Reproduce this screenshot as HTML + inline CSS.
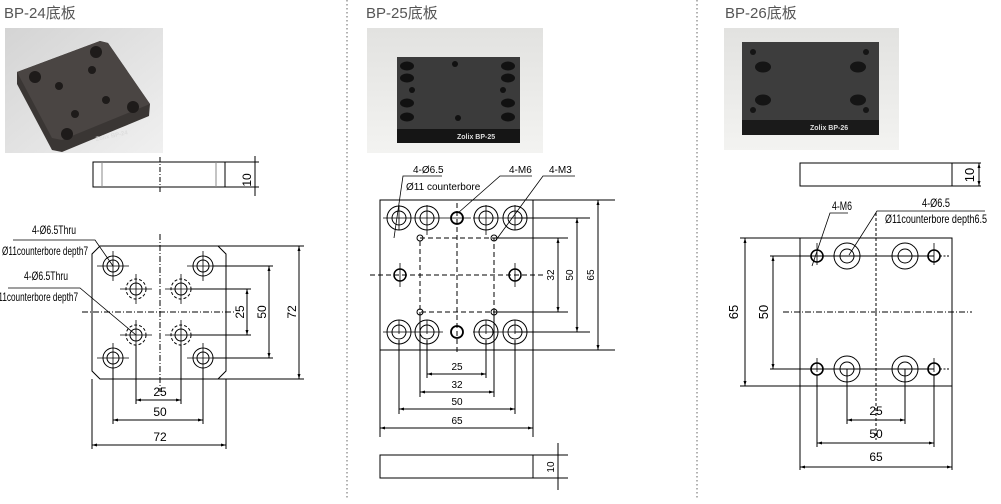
<!DOCTYPE html>
<html><head><meta charset="utf-8"><style>
body{margin:0;background:#fff;width:1001px;height:499px;overflow:hidden}
svg text{font-family:"Liberation Sans","Noto Sans CJK SC",sans-serif}
</style></head><body>
<svg width="1001" height="499" viewBox="0 0 1001 499" xmlns="http://www.w3.org/2000/svg">
<defs>
<marker id="a" viewBox="0 0 10 10" refX="10" refY="5" markerWidth="7" markerHeight="5" orient="auto-start-reverse"><path d="M0,2 L10,5 L0,8z" fill="#000"/></marker>
<linearGradient id="bg1" x1="0" y1="0" x2="1" y2="1"><stop offset="0" stop-color="#d4d4d4"/><stop offset="1" stop-color="#f0f0f0"/></linearGradient>
<linearGradient id="bg2" x1="0" y1="0" x2="0" y2="1"><stop offset="0" stop-color="#e2e2e0"/><stop offset="1" stop-color="#f3f3f1"/></linearGradient>
</defs>
<g font-size="15" fill="#555">
<text x="4" y="18">BP-24底板</text>
<text x="366" y="18">BP-25底板</text>
<text x="725" y="18">BP-26底板</text>
</g>
<line x1="347" y1="0" x2="347" y2="499" stroke="#666" stroke-dasharray="1.5,2.5"/>
<line x1="697" y1="0" x2="697" y2="499" stroke="#666" stroke-dasharray="1.5,2.5"/>

<!-- photos -->
<rect x="5" y="28" width="158" height="125" fill="url(#bg1)"/>
<polygon points="17,72 100,41 108,43 150,104 149,116 62,152 52,150 17,84" fill="#3a3634"/>
<polygon points="17,72 100,41 108,43 150,104 62,140 52,138" fill="#4a4543"/>
<g fill="#1e1b1a"><circle cx="35" cy="77" r="6"/><circle cx="96" cy="52" r="6"/><circle cx="133" cy="107" r="6"/><circle cx="67" cy="134" r="6"/><circle cx="59" cy="86" r="4"/><circle cx="92" cy="70" r="4"/><circle cx="106" cy="100" r="4"/><circle cx="75" cy="114" r="4"/></g>
<text x="96" y="141" font-size="6" fill="#ddd" font-weight="bold" transform="rotate(-12 96 141)">Zolix BP-24</text>

<rect x="367" y="28" width="176" height="125" fill="url(#bg2)"/>
<rect x="397" y="57" width="123" height="72" fill="#3b3b3b"/>
<rect x="397" y="129" width="123" height="14" fill="#151515"/>
<g fill="#111"><ellipse cx="407" cy="66" rx="7" ry="4.5"/><ellipse cx="407" cy="78" rx="7" ry="4.5"/><ellipse cx="407" cy="103" rx="7" ry="4.5"/><ellipse cx="407" cy="117" rx="7" ry="4.5"/><ellipse cx="508" cy="66" rx="7" ry="4.5"/><ellipse cx="508" cy="78" rx="7" ry="4.5"/><ellipse cx="508" cy="103" rx="7" ry="4.5"/><ellipse cx="508" cy="117" rx="7" ry="4.5"/><circle cx="455" cy="64" r="3"/><circle cx="458" cy="118" r="3"/><circle cx="412" cy="90" r="3"/><circle cx="503" cy="90" r="3"/></g>
<text x="457" y="139" font-size="7" fill="#ddd" font-weight="bold">Zolix BP-25</text>

<rect x="724" y="28" width="175" height="122" fill="url(#bg2)"/>
<rect x="742" y="42" width="137" height="78" fill="#3d3d3d"/>
<rect x="742" y="120" width="137" height="15" fill="#1a1a1a"/>
<g fill="#151515"><circle cx="753" cy="52" r="3"/><ellipse cx="763" cy="67" rx="8" ry="5.5"/><ellipse cx="763" cy="100" rx="8" ry="5.5"/><circle cx="753" cy="110" r="3"/><circle cx="866" cy="52" r="3"/><ellipse cx="858" cy="67" rx="8" ry="5.5"/><ellipse cx="858" cy="100" rx="8" ry="5.5"/><circle cx="866" cy="110" r="3"/></g>
<text x="810" y="130" font-size="7" fill="#ddd" font-weight="bold">Zolix BP-26</text>

<g stroke="#000" fill="none" stroke-width="1">
<!-- Drawing 1 side -->
<rect x="93" y="162" width="132" height="25"/>
<line x1="102" y1="162" x2="102" y2="187" stroke="#888"/><line x1="216" y1="162" x2="216" y2="187" stroke="#888"/>
<line x1="160" y1="157" x2="160" y2="193" stroke-dasharray="5,2,1,2"/>
<line x1="225" y1="162" x2="259" y2="162"/><line x1="225" y1="187" x2="259" y2="187"/>
<line x1="255" y1="156" x2="255" y2="196"/>
<!-- plan -->
<polygon points="100,246 218,246 226,254 226,371 218,379 100,379 92,371 92,254"/>
<line x1="160" y1="234" x2="160" y2="392" stroke-dasharray="6,2,1,2"/>
<line x1="82" y1="312" x2="236" y2="312" stroke-dasharray="6,2,1,2"/>
<g>
<circle cx="113" cy="266" r="10"/><circle cx="113" cy="266" r="6"/>
<circle cx="203" cy="266" r="10"/><circle cx="203" cy="266" r="6"/>
<circle cx="113" cy="358" r="10"/><circle cx="113" cy="358" r="6"/>
<circle cx="203" cy="358" r="10"/><circle cx="203" cy="358" r="6"/>
<circle cx="136" cy="289" r="10" stroke-dasharray="3,2"/><circle cx="136" cy="289" r="6"/>
<circle cx="181" cy="289" r="10" stroke-dasharray="3,2"/><circle cx="181" cy="289" r="6"/>
<circle cx="136" cy="335" r="10" stroke-dasharray="3,2"/><circle cx="136" cy="335" r="6"/>
<circle cx="181" cy="335" r="10" stroke-dasharray="3,2"/><circle cx="181" cy="335" r="6"/>
</g>
<g stroke-width="0.8">
<path d="M97,266h32M113,251v30M187,266h32M203,251v30M97,358h32M113,343v30M187,358h32M203,343v30"/>
<path d="M120,289h32M136,274v30M165,289h32M181,274v30M120,335h32M136,320v30M165,335h32M181,320v30"/>
</g>
<!-- bottom dims -->
<line x1="136" y1="345" x2="136" y2="404"/><line x1="181" y1="345" x2="181" y2="404"/>
<line x1="113" y1="368" x2="113" y2="424"/><line x1="203" y1="368" x2="203" y2="424"/>
<line x1="92" y1="379" x2="92" y2="449"/><line x1="226" y1="379" x2="226" y2="449"/>
<line x1="136" y1="400" x2="181" y2="400" marker-start="url(#a)" marker-end="url(#a)"/>
<line x1="113" y1="420" x2="203" y2="420" marker-start="url(#a)" marker-end="url(#a)"/>
<line x1="92" y1="445" x2="226" y2="445" marker-start="url(#a)" marker-end="url(#a)"/>
<!-- right dims -->
<line x1="191" y1="289" x2="251" y2="289"/><line x1="191" y1="335" x2="251" y2="335"/>
<line x1="213" y1="266" x2="273" y2="266"/><line x1="213" y1="358" x2="273" y2="358"/>
<line x1="218" y1="246" x2="304" y2="246"/><line x1="218" y1="379" x2="304" y2="379"/>
<line x1="247" y1="289" x2="247" y2="335" marker-start="url(#a)" marker-end="url(#a)"/>
<line x1="269" y1="266" x2="269" y2="358" marker-start="url(#a)" marker-end="url(#a)"/>
<line x1="299" y1="246" x2="299" y2="379" marker-start="url(#a)" marker-end="url(#a)"/>
<!-- leaders -->
<path d="M13,240H95L113,266" stroke-width="0.8"/>
<path d="M8,288H80L136,335" stroke-width="0.8"/>

<!-- Drawing 2 -->
<rect x="380" y="200" width="153" height="150"/>
<g>
<circle cx="399" cy="218" r="12"/><circle cx="399" cy="218" r="7"/>
<circle cx="427" cy="218" r="12"/><circle cx="427" cy="218" r="7"/>
<circle cx="486" cy="218" r="12"/><circle cx="486" cy="218" r="7"/>
<circle cx="515" cy="218" r="12"/><circle cx="515" cy="218" r="7"/>
<circle cx="457" cy="218" r="6" stroke-width="1.8"/>
<circle cx="399" cy="332" r="12"/><circle cx="399" cy="332" r="7"/>
<circle cx="427" cy="332" r="12"/><circle cx="427" cy="332" r="7"/>
<circle cx="486" cy="332" r="12"/><circle cx="486" cy="332" r="7"/>
<circle cx="515" cy="332" r="12"/><circle cx="515" cy="332" r="7"/>
<circle cx="457" cy="332" r="6" stroke-width="1.8"/>
<circle cx="400" cy="275" r="6" stroke-width="1.5"/><circle cx="515" cy="275" r="6" stroke-width="1.5"/>
<circle cx="420" cy="238" r="3"/><circle cx="494" cy="238" r="3"/><circle cx="420" cy="312" r="3"/><circle cx="494" cy="312" r="3"/>
</g>
<g stroke-dasharray="5,3">
<rect x="420" y="238" width="74" height="74"/>
<line x1="457" y1="203" x2="457" y2="355"/>
<line x1="370" y1="275" x2="545" y2="275"/>
</g>
<g stroke-width="0.8">
<path d="M383,218h32M399,205v25M411,218h32M427,205v30M443,218h28M473,218h32M486,205v30M501,218h30M515,205v25"/>
<path d="M383,332h32M399,320v14M411,332h32M427,320v14M473,332h32M486,320v14M501,332h30M515,320v14"/>
<path d="M400,263v24M515,263v24"/>
</g>
<!-- right dims -->
<line x1="494" y1="238" x2="568" y2="238"/><line x1="494" y1="312" x2="568" y2="312"/>
<line x1="515" y1="218" x2="590" y2="218"/><line x1="515" y1="332" x2="590" y2="332"/>
<line x1="533" y1="200" x2="615" y2="200"/><line x1="533" y1="350" x2="615" y2="350"/>
<line x1="558" y1="238" x2="558" y2="312" marker-start="url(#a)" marker-end="url(#a)"/>
<line x1="577" y1="218" x2="577" y2="332" marker-start="url(#a)" marker-end="url(#a)"/>
<line x1="598" y1="200" x2="598" y2="350" marker-start="url(#a)" marker-end="url(#a)"/>
<!-- bottom dims -->
<line x1="427" y1="340" x2="427" y2="378"/><line x1="486" y1="340" x2="486" y2="378"/>
<line x1="420" y1="312" x2="420" y2="397"/><line x1="494" y1="312" x2="494" y2="397"/>
<line x1="399" y1="340" x2="399" y2="414"/><line x1="515" y1="340" x2="515" y2="414"/>
<line x1="380" y1="350" x2="380" y2="437"/><line x1="533" y1="350" x2="533" y2="437"/>
<line x1="427" y1="374" x2="486" y2="374" marker-start="url(#a)" marker-end="url(#a)"/>
<line x1="420" y1="392" x2="494" y2="392" marker-start="url(#a)" marker-end="url(#a)"/>
<line x1="399" y1="409" x2="515" y2="409" marker-start="url(#a)" marker-end="url(#a)"/>
<line x1="380" y1="428" x2="533" y2="428" marker-start="url(#a)" marker-end="url(#a)"/>
<!-- side view -->
<rect x="380" y="455" width="153" height="23"/>
<line x1="533" y1="455" x2="568" y2="455"/><line x1="533" y1="478" x2="568" y2="478"/>
<line x1="558" y1="443" x2="558" y2="490"/>
<!-- leaders -->
<path d="M442,176H403L394,238" stroke-width="0.8"/>
<path d="M532,176H500L458,213" stroke-width="0.8"/>
<path d="M575,176H543L496,240" stroke-width="0.8"/>

<!-- Drawing 3 -->
<rect x="800" y="163" width="152" height="23"/>
<line x1="952" y1="163" x2="981" y2="163"/><line x1="952" y1="186" x2="981" y2="186"/>
<line x1="979" y1="163" x2="979" y2="186" marker-start="url(#a)" marker-end="url(#a)"/>
<rect x="800" y="238" width="152" height="148"/>
<g>
<circle cx="817" cy="256" r="6" stroke-width="1.6"/><circle cx="934" cy="256" r="6" stroke-width="1.6"/>
<circle cx="817" cy="369" r="6" stroke-width="1.6"/><circle cx="934" cy="369" r="6" stroke-width="1.6"/>
<circle cx="847" cy="256" r="13"/><circle cx="847" cy="256" r="7"/>
<circle cx="905" cy="256" r="13"/><circle cx="905" cy="256" r="7"/>
<circle cx="847" cy="369" r="13"/><circle cx="847" cy="369" r="7"/>
<circle cx="905" cy="369" r="13"/><circle cx="905" cy="369" r="7"/>
</g>
<line x1="876" y1="213" x2="876" y2="440" stroke-dasharray="3,2"/>
<line x1="783" y1="312" x2="972" y2="312" stroke-dasharray="6,2,1,2"/>
<line x1="940" y1="256" x2="950" y2="256" stroke-dasharray="2,1.5"/><line x1="940" y1="369" x2="950" y2="369" stroke-dasharray="2,1.5"/>
<path d="M817,243v22M934,243v22M817,358v14M934,358v14" stroke-width="0.8"/>
<!-- left dims -->
<line x1="770" y1="256" x2="934" y2="256"/><line x1="770" y1="369" x2="934" y2="369"/>
<line x1="740" y1="238" x2="800" y2="238"/><line x1="740" y1="386" x2="800" y2="386"/>
<line x1="773" y1="256" x2="773" y2="369" marker-start="url(#a)" marker-end="url(#a)"/>
<line x1="745" y1="238" x2="745" y2="386" marker-start="url(#a)" marker-end="url(#a)"/>
<!-- bottom dims -->
<line x1="847" y1="369" x2="847" y2="424"/><line x1="905" y1="369" x2="905" y2="424"/>
<line x1="817" y1="375" x2="817" y2="447"/><line x1="934" y1="375" x2="934" y2="447"/>
<line x1="800" y1="386" x2="800" y2="470"/><line x1="952" y1="386" x2="952" y2="470"/>
<line x1="847" y1="420" x2="905" y2="420" marker-start="url(#a)" marker-end="url(#a)"/>
<line x1="817" y1="443" x2="934" y2="443" marker-start="url(#a)" marker-end="url(#a)"/>
<line x1="800" y1="467" x2="952" y2="467" marker-start="url(#a)" marker-end="url(#a)"/>
<!-- leaders -->
<path d="M848,213H830L812,266" stroke-width="0.8"/>
<path d="M985,211H877L849,255" stroke-width="0.8"/>
</g>

<g font-size="12" fill="#000">
<!-- drawing 1 texts -->
<text x="32" y="234" textLength="44" lengthAdjust="spacingAndGlyphs">4-Ø6.5Thru</text>
<text x="2" y="255" textLength="86" lengthAdjust="spacingAndGlyphs">Ø11counterbore depth7</text>
<text x="24" y="280" textLength="44" lengthAdjust="spacingAndGlyphs">4-Ø6.5Thru</text>
<text x="-8" y="301" textLength="86" lengthAdjust="spacingAndGlyphs">Ø11counterbore depth7</text>
<text x="160" y="396" text-anchor="middle">25</text>
<text x="160" y="416" text-anchor="middle">50</text>
<text x="160" y="441" text-anchor="middle">72</text>
<text transform="translate(251 180) rotate(-90)" text-anchor="middle">10</text>
<text transform="translate(244 312) rotate(-90)" text-anchor="middle">25</text>
<text transform="translate(266 312) rotate(-90)" text-anchor="middle">50</text>
<text transform="translate(296 312) rotate(-90)" text-anchor="middle">72</text>
<!-- drawing 2 -->
<text x="413" y="173" font-size="10">4-Ø6.5</text>
<text x="406" y="190" font-size="10">Ø11 counterbore</text>
<text x="509" y="173" font-size="10">4-M6</text>
<text x="549" y="173" font-size="10">4-M3</text>
<text x="457" y="370" text-anchor="middle" font-size="10">25</text>
<text x="457" y="388" text-anchor="middle" font-size="10">32</text>
<text x="457" y="405" text-anchor="middle" font-size="10">50</text>
<text x="457" y="424" text-anchor="middle" font-size="10">65</text>
<text transform="translate(554 275) rotate(-90)" text-anchor="middle" font-size="10">32</text>
<text transform="translate(573 275) rotate(-90)" text-anchor="middle" font-size="10">50</text>
<text transform="translate(594 275) rotate(-90)" text-anchor="middle" font-size="10">65</text>
<text transform="translate(554 467) rotate(-90)" text-anchor="middle" font-size="10">10</text>
<!-- drawing 3 -->
<text x="832" y="210" textLength="20" lengthAdjust="spacingAndGlyphs">4-M6</text>
<text x="922" y="207" textLength="28" lengthAdjust="spacingAndGlyphs">4-Ø6.5</text>
<text x="885" y="223" textLength="102" lengthAdjust="spacingAndGlyphs">Ø11counterbore depth6.5</text>
<text x="876" y="415" text-anchor="middle">25</text>
<text x="876" y="438" text-anchor="middle">50</text>
<text x="876" y="461" text-anchor="middle">65</text>
<text transform="translate(738 312) rotate(-90)" text-anchor="middle" font-size="13">65</text>
<text transform="translate(768 312) rotate(-90)" text-anchor="middle" font-size="13">50</text>
<text transform="translate(974 175) rotate(-90)" text-anchor="middle" font-size="13">10</text>
</g>
</svg>
</body></html>
